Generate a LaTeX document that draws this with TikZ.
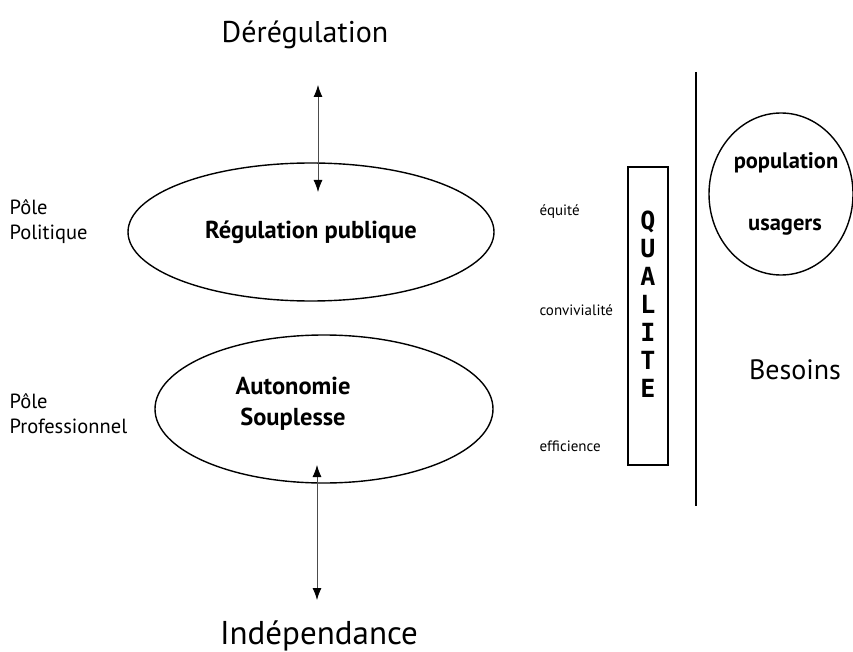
\documentclass[tikz,border=0pt]{standalone}
\usepackage{fontspec}
\setmainfont{PT Sans}
\newfontfamily\qualfont{DejaVu Sans Mono}
\usetikzlibrary{positioning,shapes.geometric,arrows.meta}
\tikzset{%
  oval/.style={%
    draw, shape=ellipse, line width=1.4pt, inner sep=0pt
  },
  titre/.style={font=\fontsize{30}{36}\selectfont},
  centre/.style={font=\bfseries\fontsize{24.5}{31}\selectfont, align=center},
  pole/.style={anchor=west, align=left, font=\fontsize{20.5}{25}\selectfont},
  critere/.style={anchor=west, font=\fontsize{15}{17}\selectfont},
  usager/.style={font=\bfseries\fontsize{22.5}{26}\selectfont},
  dblarrow/.style={%
    draw=gray!60!black, line width=0.8pt,
    {Latex[length=12pt,width=9pt,color=black]}-{Latex[length=12pt,width=9pt,color=black]}
  },
}

\begin{document}
\begin{tikzpicture}[x=1pt, y=-1pt]
  \useasboundingbox (0,0) rectangle (853,652);

  % les deux poles
  \node (DEREG)[titre] at (305,35) {Dérégulation};
  \node (REGUL)[oval, centre, minimum width=366pt, minimum height=138pt] at (311,232) {Régulation publique};
  \node (AUTON)[oval, minimum width=338pt, minimum height=148pt] at (324,409) {};
  \node (AUTONTXT)[centre] at (293,404) {Autonomie\\Souplesse};
  \node (INDEP)[titre, font=\fontsize{33}{38}\selectfont] at (319,636) {Indépendance};

  \node (POLIT)[pole] at (6,222) {Pôle\\Politique};
  \node (PROF)[pole] at (6,414) {Pôle\\Professionnel};

  \coordinate (UPTIP) at (318,85);
  \coordinate (REGTIP) at (318,192);
  \coordinate (AUTTIP) at (317,465);
  \coordinate (DOWNTIP) at (317,600);
  \path[dblarrow] (UPTIP) -- (REGTIP);
  \path[dblarrow] (AUTTIP) -- (DOWNTIP);

  % qualite
  \node (EQUITE)[critere] at (536,212) {équité};
  \node (CONVIV)[critere] at (536,310) {convivialité};
  \node (EFFIC)[critere] at (536,446) {efficience};
  \node (QUALITE)[draw, line width=1.4pt, minimum width=40pt, minimum height=298pt] at (648,316) {};
  \node (QUALTXT)[font=\qualfont\bfseries\fontsize{25}{28}\selectfont, align=center] at (648,304)
    {Q\\U\\A\\L\\I\\T\\E};

  % besoins
  \coordinate (SEPTOP) at (696,72);
  \coordinate (SEPBOT) at (696,506);
  \draw[line width=1.8pt] (SEPTOP) -- (SEPBOT);
  \node (USAGERS)[oval, minimum width=144pt, minimum height=162pt] at (781,194) {};
  \node (POPTXT)[usager] at (786,163) {population};
  \node (USATXT)[usager] at (785,227) {usagers};
  \node (BESOINS)[font=\fontsize{28}{32}\selectfont] at (795,370) {Besoins};
\end{tikzpicture}
\end{document}
